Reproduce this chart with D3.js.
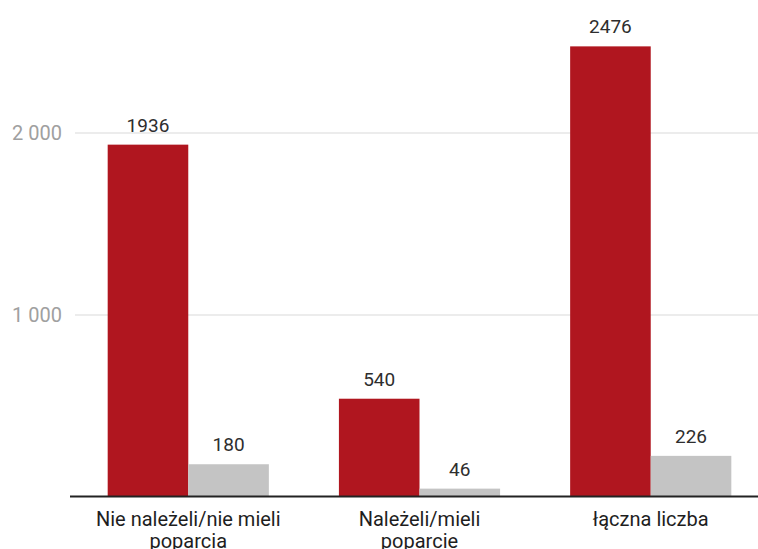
<!DOCTYPE html>
<html>
<head>
<meta charset="utf-8">
<script src="https://cdn.jsdelivr.net/npm/d3@7"></script>
<style>
  body { margin: 0; background: #fff; }
  svg { display: block; font-family: Roboto, "Noto Sans", sans-serif; }
  .grid line { stroke: #e6e6e6; stroke-width: 1.5; }
  .tick-label { fill: #a0a0a0; font-size: 20px; }
  .value-label { fill: #2e2e2e; font-size: 19px; }
  .cat-label { fill: #1e1e1e; font-size: 20px; }
</style>
</head>
<body>
<svg id="chart"></svg>
<script>
var categories = ["Nie należeli/nie mieli|poparcia", "Należeli/mieli|poparcie", "łączna liczba"];
var seriesKeys = ["red", "grey"];
var redValues = [1936, 540, 2476];
var greyValues = [180, 46, 226];
var yTicks = [1000, 2000];
var tickLabels = ["1 000", "2 000"];

var width = 758, height = 549;
var margin = {top: 0, right: 0, bottom: 52, left: 73};
var baseline = height - margin.bottom; // y of zero

var colors = {red: "#b0161f", grey: "#c4c4c4"};

var svg = d3.select("#chart")
    .attr("width", width)
    .attr("height", height);

var x = d3.scaleBand()
    .domain(categories)
    .range([margin.left, 766])
    .paddingInner(0.303)
    .paddingOuter(0.15);

var xSub = d3.scaleBand()
    .domain(seriesKeys)
    .range([0, x.bandwidth()]);

var y = d3.scaleLinear()
    .domain([0, 2000])
    .range([baseline, 133]);

// gridlines
var grid = svg.append("g").attr("class", "grid");
grid.selectAll("line")
    .data(yTicks)
    .enter().append("line")
    .attr("x1", 75)
    .attr("x2", width)
    .attr("y1", function(d) { return y(d); })
    .attr("y2", function(d) { return y(d); });

svg.selectAll(".tick-label")
    .data(yTicks)
    .enter().append("text")
    .attr("class", "tick-label")
    .attr("x", 62)
    .attr("y", function(d) { return y(d); })
    .attr("dy", "0.35em")
    .attr("text-anchor", "end")
    .text(function(d, i) { return tickLabels[i]; });

var rows = categories.map(function(c, i) {
    return {cat: c, red: redValues[i], grey: greyValues[i]};
});

var groups = svg.selectAll(".group")
    .data(rows)
    .enter().append("g")
    .attr("class", "group")
    .attr("transform", function(d) { return "translate(" + x(d.cat) + ",0)"; });

groups.selectAll("rect")
    .data(function(d) { return seriesKeys.map(function(k) { return {key: k, value: d[k]}; }); })
    .enter().append("rect")
    .attr("x", function(d) { return xSub(d.key); })
    .attr("width", xSub.bandwidth())
    .attr("y", function(d) { return y(d.value); })
    .attr("height", function(d) { return baseline - y(d.value); })
    .attr("fill", function(d) { return colors[d.key]; });

groups.selectAll(".value-label")
    .data(function(d) { return seriesKeys.map(function(k) { return {key: k, value: d[k]}; }); })
    .enter().append("text")
    .attr("class", "value-label")
    .attr("x", function(d) { return xSub(d.key) + xSub.bandwidth() / 2; })
    .attr("y", function(d) { return y(d.value) - 13; })
    .attr("text-anchor", "middle")
    .text(function(d) { return d.value; });

// baseline axis
svg.append("line")
    .attr("x1", 70)
    .attr("x2", width)
    .attr("y1", baseline - 0.5)
    .attr("y2", baseline - 0.5)
    .attr("stroke", "#222")
    .attr("stroke-width", 2);

// category labels, split on |
groups.append("text")
    .attr("class", "cat-label")
    .attr("text-anchor", "middle")
    .attr("x", x.bandwidth() / 2)
    .attr("y", baseline + 29)
    .selectAll("tspan")
    .data(function(d) { return d.cat.split("|"); })
    .enter().append("tspan")
    .attr("x", x.bandwidth() / 2)
    .attr("dy", function(d, i) { return i === 0 ? 0 : 22; })
    .text(function(d) { return d; });
</script>
</body>
</html>
